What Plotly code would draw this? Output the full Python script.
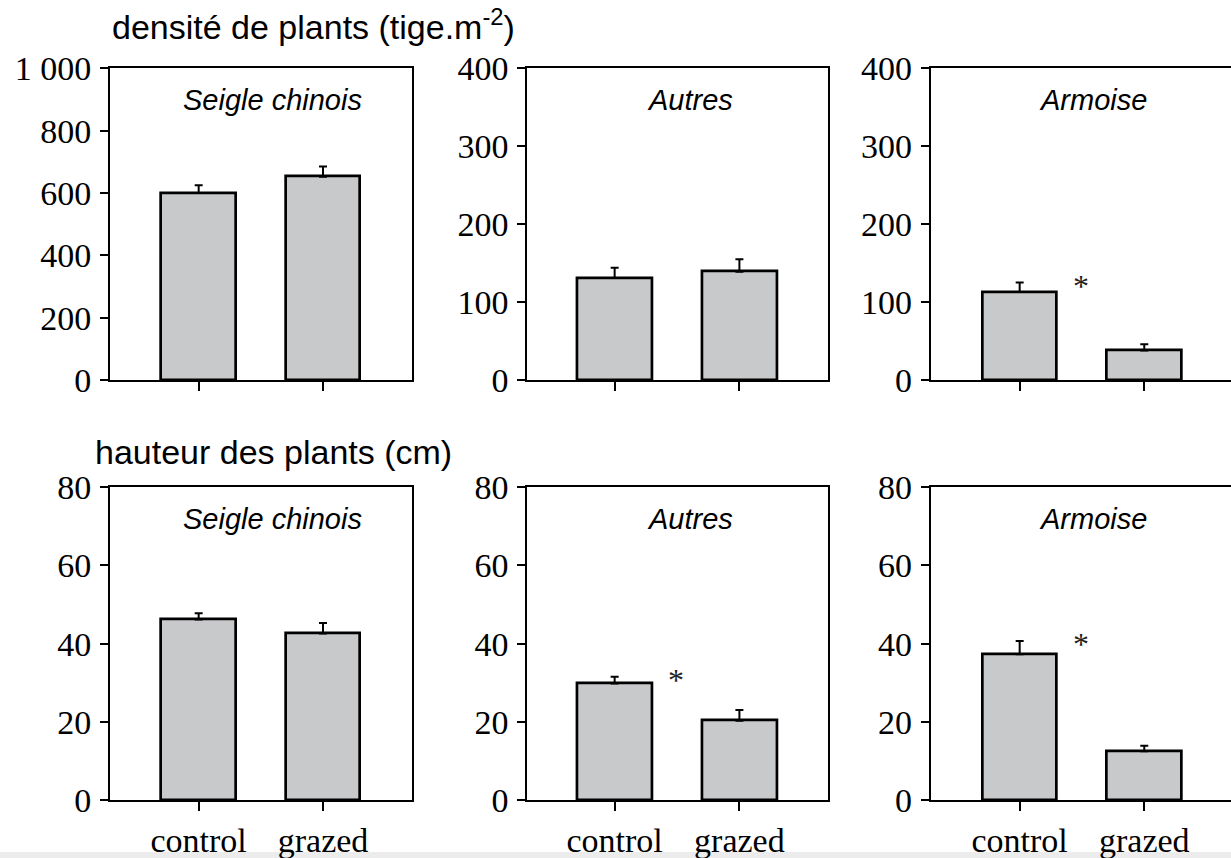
import plotly.graph_objects as go

# --- data -------------------------------------------------------------
groups = ["control", "grazed"]
species = ["Seigle chinois", "Autres", "Armoise"]

density_mean = [[600, 652], [131, 139], [113, 38]]
density_se = [[25, 33], [13, 16], [12, 8]]
density_signif = [False, False, True]

height_mean = [[46.2, 42.6], [29.8, 20.3], [37.3, 12.5]]
height_se = [[1.6, 2.7], [1.7, 2.7], [3.4, 1.4]]
height_signif = [False, True, True]

density_max = [1000, 400, 400]
density_step = [200, 100, 100]
height_max = [80, 80, 80]
height_step = [20, 20, 20]

density_title = "densité de plants (tige.m<sup>-2</sup>)"
height_title = "hauteur des plants (cm)"

# --- layout geometry (pixels) ------------------------------------------
W, H = 1231, 858
col_px = [(110, 411.7), (527.3, 828.0), (930.7, 1231.0)]
row_px = [(68.3, 380.0), (487.3, 800.0)]
x_ranges = [[-0.713, 1.713], [-0.70, 1.71], [-0.714, 1.696]]

SERIF = "Liberation Serif"
SANS = "Liberation Sans"
BAR_FILL = "#c8c9cb"


def fmt_tick(v):
    return f"{v:,}".replace(",", " ")


fig = go.Figure()
annotations = []

rows = [
    (density_mean, density_se, density_signif, density_max, density_step),
    (height_mean, height_se, height_signif, height_max, height_step),
]

for r, (means, ses, signif, ymaxs, steps) in enumerate(rows):
    for c in range(3):
        k = r * 3 + c + 1
        xa = "x" if k == 1 else f"x{k}"
        ya = "y" if k == 1 else f"y{k}"
        fig.add_trace(go.Bar(
            x=[0, 1], y=means[c],
            width=0.6,
            marker=dict(color=BAR_FILL, line=dict(color="black", width=2.7)),
            error_y=dict(type="data", array=ses[c], arrayminus=[0, 0],
                         symmetric=False, color="black", thickness=2, width=4),
            xaxis=xa, yaxis=ya, showlegend=False, hoverinfo="skip",
        ))

        x0, x1 = col_px[c]
        ytop, ybot = row_px[r]
        xdom = [x0 / W, min(x1 / W, 1.0)]
        ydom = [1 - ybot / H, 1 - ytop / H]
        tickvals = list(range(0, ymaxs[c] + 1, steps[c]))
        last_col = (c == 2)

        fig.layout[("xaxis" if k == 1 else f"xaxis{k}")] = dict(
            domain=xdom, range=x_ranges[c], anchor=ya,
            tickmode="array", tickvals=[0, 1], ticktext=groups,
            showticklabels=(r == 1),
            ticks="outside", ticklen=9, tickwidth=2, tickcolor="black",
            showline=True, linewidth=2, linecolor="black", mirror=True,
            showgrid=False, zeroline=False, fixedrange=True, automargin=False,
            tickfont=dict(family=SERIF, size=34, color="black"),
            ticklabelstandoff=0,
        )
        fig.layout[("yaxis" if k == 1 else f"yaxis{k}")] = dict(
            domain=ydom, range=[0, ymaxs[c]], anchor=xa,
            tickmode="array", tickvals=tickvals,
            ticktext=[fmt_tick(v) for v in tickvals],
            ticks="outside", ticklen=8, tickwidth=2, tickcolor="black",
            showline=True, linewidth=2, linecolor="black",
            mirror=(not last_col),
            showgrid=False, zeroline=False, fixedrange=True, automargin=False,
            tickfont=dict(family=SERIF, size=34, color="black"),
            ticklabelstandoff=2,
        )

        # species name inside each panel
        annotations.append(dict(
            text=f"<i>{species[c]}</i>", xref=f"{xa} domain", yref=f"{ya} domain",
            x=0.54, y=1 - 32 / (ybot - ytop), xanchor="center", yanchor="middle",
            showarrow=False, font=dict(family=SANS, size=29, color="black"),
        ))

        # significance mark beside the control bar
        if signif[c]:
            annotations.append(dict(
                text="*", xref=xa, yref=ya,
                x=0.49, y=means[c][0] + ses[c][0],
                xanchor="center", yanchor="middle", yshift=-3,
                showarrow=False, font=dict(family=SERIF, size=32, color="#222"),
            ))

# row titles
annotations.append(dict(
    text=density_title, xref="paper", yref="paper",
    x=110 / W, y=1 - 25 / H, xanchor="left", yanchor="middle",
    showarrow=False, font=dict(family=SANS, size=34, color="black"),
))
annotations.append(dict(
    text=height_title, xref="paper", yref="paper",
    x=93 / W, y=1 - 452 / H, xanchor="left", yanchor="middle",
    showarrow=False, font=dict(family=SANS, size=34, color="black"),
))

fig.update_layout(
    width=W, height=H,
    margin=dict(l=0, r=0, t=0, b=0, autoexpand=False),
    paper_bgcolor="white", plot_bgcolor="white",
    annotations=annotations,
    bargap=0,
    shapes=[dict(type="rect", xref="paper", yref="paper",
                 x0=0, x1=1, y0=0, y1=6 / H,
                 fillcolor="#ececec", line=dict(width=0), layer="below")],
)

fig.write_html("out.html")
